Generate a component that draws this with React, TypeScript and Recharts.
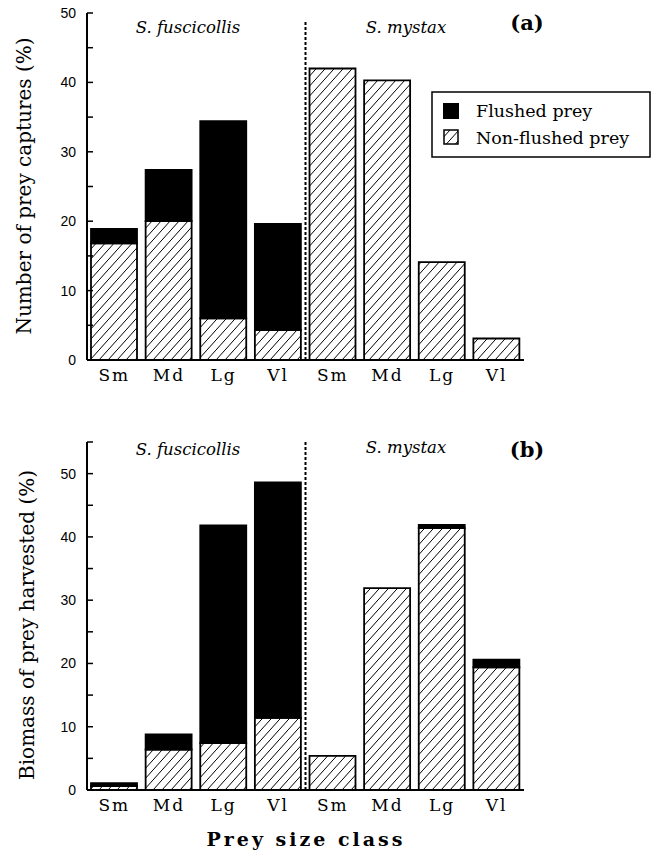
import React from "react";
import { BarChart, Bar, XAxis, YAxis, ReferenceLine } from "recharts";

// prey size classes, first four for S. fuscicollis, last four for S. mystax
const sizeClasses = ["Sm", "Md", "Lg", "Vl", "Sm", "Md", "Lg", "Vl"];

// (a) number of prey captures (%)
const capturesNonFlushed = [16.8, 20.0, 6.0, 4.3, 42.0, 40.3, 14.1, 3.1];
const capturesFlushed = [2.1, 7.4, 28.4, 15.3, 0, 0, 0, 0];

// (b) biomass of prey harvested (%)
const biomassNonFlushed = [0.6, 6.4, 7.4, 11.4, 5.4, 31.9, 41.4, 19.4];
const biomassFlushed = [0.5, 2.4, 34.4, 37.2, 0, 0, 0.5, 1.2];

const capturesTicks = [0, 5, 10, 15, 20, 25, 30, 35, 40, 45, 50];
const biomassTicks = [0, 5, 10, 15, 20, 25, 30, 35, 40, 45, 50, 55];

const SERIF = "'DejaVu Serif', serif";
const SANS = "'Liberation Sans', Arial, sans-serif";

const buildRows = (non: number[], fl: number[]) =>
  sizeClasses.map((c, i) => ({
    cls: c,
    pos: i + 0.5,
    nonFlushed: non[i],
    flushed: fl[i],
  }));

function YTick(props: any) {
  const { x, y, payload } = props;
  const v = payload.value;
  return (
    <g>
      <line x1={x + 10} x2={x + 16} y1={y} y2={y} stroke="#000" strokeWidth={1.5} />
      {v % 10 === 0 && v <= 50 && (
        <text x={x - 1} y={y} dy={5} textAnchor="end" fontFamily={SANS} fontSize={14} fill="#000">
          {v}
        </text>
      )}
    </g>
  );
}

function XTick(props: any) {
  const { x, y, payload } = props;
  return (
    <text x={x} y={y} dy={15} textAnchor="middle" fontFamily={SERIF} fontSize={17} letterSpacing={2} fill="#000">
      {payload.value}
    </text>
  );
}

function Panel({
  rows,
  ticks,
  max,
  hatchId,
  height,
  marginTop,
  dividerTop,
}: {
  rows: any[];
  ticks: number[];
  max: number;
  hatchId: string;
  height: number;
  marginTop: number;
  dividerTop?: number;
}) {
  return (
    <BarChart
      width={655}
      height={height}
      data={rows}
      margin={{ top: marginTop, right: 131, bottom: 0, left: 27 }}
      barSize={46}
    >
      <defs>
        <pattern id={hatchId} patternUnits="userSpaceOnUse" width={9} height={10}>
          <rect width={9} height={10} fill="#fff" />
          <path d="M0,10 L9,0 M-1,1 L1,-1 M8,11 L10,9" stroke="#000" strokeWidth={1} />
        </pattern>
      </defs>
      <XAxis
        dataKey="cls"
        height={40}
        tickSize={0}
        tickMargin={6}
        interval={0}
        axisLine={{ stroke: "#000", strokeWidth: 2 }}
        tick={(p: any) => <XTick {...p} />}
      />
      <XAxis xAxisId="pos" type="number" dataKey="pos" domain={[0, 8]} hide />
      <YAxis
        type="number"
        domain={[0, max]}
        ticks={ticks}
        interval={0}
        width={60}
        tickSize={0}
        tickMargin={10}
        axisLine={{ stroke: "#000", strokeWidth: 2 }}
        tick={(p: any) => <YTick {...p} />}
      />
      {dividerTop !== undefined ? (
        <ReferenceLine
          xAxisId="pos"
          segment={[
            { x: 4, y: 0 },
            { x: 4, y: dividerTop },
          ]}
          stroke="#000"
          strokeWidth={2}
          strokeDasharray="3 2"
        />
      ) : (
        <ReferenceLine xAxisId="pos" x={4} stroke="#000" strokeWidth={2} strokeDasharray="3 2" />
      )}
      <Bar
        dataKey="nonFlushed"
        stackId="s"
        fill={`url(#${hatchId})`}
        stroke="#000"
        strokeWidth={1.8}
        isAnimationActive={false}
      />
      <Bar dataKey="flushed" stackId="s" fill="#000" stroke="#000" strokeWidth={1.8} isAnimationActive={false} />
    </BarChart>
  );
}

export default function App() {
  const capturesRows = buildRows(capturesNonFlushed, capturesFlushed);
  const biomassRows = buildRows(biomassNonFlushed, biomassFlushed);

  return (
    <div style={{ position: "absolute", left: 0, top: 0, width: 655, height: 860, background: "#fff" }}>
      <div style={{ position: "absolute", left: 0, top: 0 }}>
        <Panel
          rows={capturesRows}
          ticks={capturesTicks}
          max={50}
          hatchId="hatchA"
          height={400}
          marginTop={13}
          dividerTop={49}
        />
      </div>
      <div style={{ position: "absolute", left: 0, top: 420 }}>
        <Panel rows={biomassRows} ticks={biomassTicks} max={55} hatchId="hatchB" height={410} marginTop={22} />
      </div>

      {/* titles, panel letters and legend */}
      <svg
        width={655}
        height={860}
        style={{ position: "absolute", left: 0, top: 0, pointerEvents: "none" }}
      >
        <defs>
          <pattern id="hatchLegend" patternUnits="userSpaceOnUse" width={9} height={10}>
            <path d="M0,10 L9,0 M-1,1 L1,-1 M8,11 L10,9" stroke="#000" strokeWidth={1} />
          </pattern>
        </defs>
        <g fontFamily={SERIF} fill="#000">
          <text transform="translate(31,186) rotate(-90)" textAnchor="middle" fontSize={20}>
            Number of prey captures (%)
          </text>
          <text transform="translate(34,625) rotate(-90)" textAnchor="middle" fontSize={20}>
            Biomass of prey harvested (%)
          </text>

          <text x={188} y={33} textAnchor="middle" fontSize={16.5} fontStyle="italic">
            S. fuscicollis
          </text>
          <text x={406} y={33} textAnchor="middle" fontSize={16.5} fontStyle="italic">
            S. mystax
          </text>
          <text x={527} y={30} textAnchor="middle" fontSize={21} fontWeight="bold">
            (a)
          </text>

          <text x={188} y={455} textAnchor="middle" fontSize={16.5} fontStyle="italic">
            S. fuscicollis
          </text>
          <text x={406} y={453} textAnchor="middle" fontSize={16.5} fontStyle="italic">
            S. mystax
          </text>
          <text x={527} y={457} textAnchor="middle" fontSize={21} fontWeight="bold">
            (b)
          </text>

          <text x={306} y={846} textAnchor="middle" fontSize={19} fontWeight="bold" letterSpacing={3}>
            Prey size class
          </text>

          <rect x={432} y={92} width={218} height={65} fill="#fff" stroke="#000" strokeWidth={1.5} />
          <rect x={443} y={103} width={16} height={16} fill="#000" />
          <rect x={444} y={130} width={14} height={14} fill="url(#hatchLegend)" stroke="#000" strokeWidth={1.5} />
          <text x={476} y={117} fontSize={17.5}>
            Flushed prey
          </text>
          <text x={476} y={144} fontSize={17.5}>
            Non-flushed prey
          </text>
        </g>
      </svg>
    </div>
  );
}
